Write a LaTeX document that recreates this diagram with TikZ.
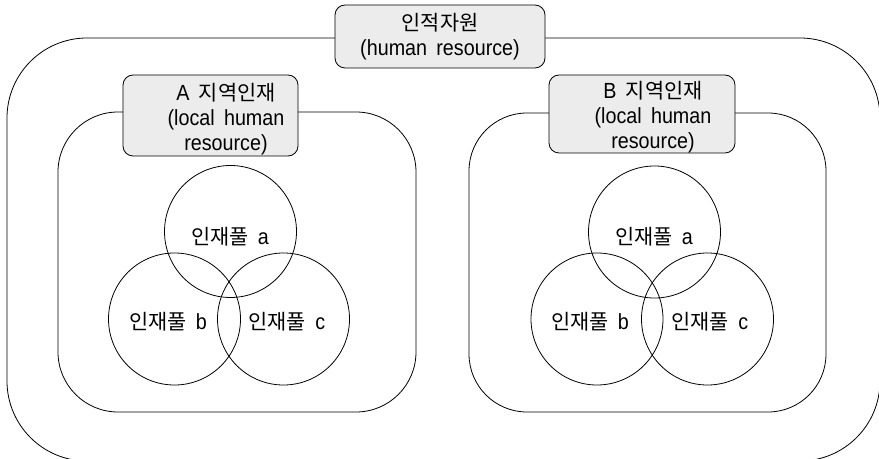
\documentclass[tikz,border=0pt]{standalone}
\usepackage{fontspec}
\setmainfont{Liberation Sans}[FakeStretch=0.9, WordSpace=1.7]
\newfontfamily\kr{Noto Sans CJK KR}[Scale=0.95]
\usetikzlibrary{shapes.geometric}
\tikzset{
  frame/.style={draw=black, line width=0.8bp},
  tagbox/.style={draw=black, line width=0.8bp, fill=gray!15, rounded corners=10bp,
    rectangle, inner sep=0pt, align=center, font=\fontsize{22}{25}\selectfont},
  pool/.style={draw=black, line width=0.8bp, circle, minimum size=132bp, inner sep=0pt},
  txt/.style={font=\fontsize{22}{25}\selectfont, inner sep=0pt}
}
\begin{document}
\begin{tikzpicture}[x=1bp, y=-1bp]
  \useasboundingbox (0,0) rectangle (879,459);
  % outer frame and the two regional frames
  \draw[frame, rounded corners=80bp] (7,38) rectangle (880,461);
  \draw[frame, rounded corners=60bp] (58,112) rectangle (416,412);
  \draw[frame, rounded corners=58bp] (469,113) rectangle (826,412);
  % title boxes
  \node[tagbox, minimum width=210bp, minimum height=63bp] (top) at (440,36.5)
    {{\kr 인적자원}\\(human resource)};
  \node[tagbox, minimum width=175bp, minimum height=81bp] (boxA) at (210.5,115.5) {};
  \node[txt, align=center] (labA) at (226,119) {A {\kr 지역인재}\\(local human\\resource)};
  \node[tagbox, minimum width=186bp, minimum height=78bp] (boxB) at (642,114) {};
  \node[txt, align=center] (labB) at (653,117) {B {\kr 지역인재}\\(local human\\resource)};
  % talent pools, region A
  \node[pool] (Aa) at (230.5,231.5) {};
  \node[pool] (Ab) at (174.5,319) {};
  \node[pool] (Ac) at (283.5,319) {};
  \node[txt] (tAa) at (230,237) {{\kr 인재풀} a};
  \node[txt] (tAb) at (168,322) {{\kr 인재풀} b};
  \node[txt] (tAc) at (287,322) {{\kr 인재풀} c};
  % talent pools, region B
  \node[pool] (Ba) at (654.5,232) {};
  \node[pool] (Bb) at (597,319) {};
  \node[pool] (Bc) at (707.5,319) {};
  \node[txt] (tBa) at (654,237) {{\kr 인재풀} a};
  \node[txt] (tBb) at (590,322) {{\kr 인재풀} b};
  \node[txt] (tBc) at (710,322) {{\kr 인재풀} c};
\end{tikzpicture}
\end{document}
